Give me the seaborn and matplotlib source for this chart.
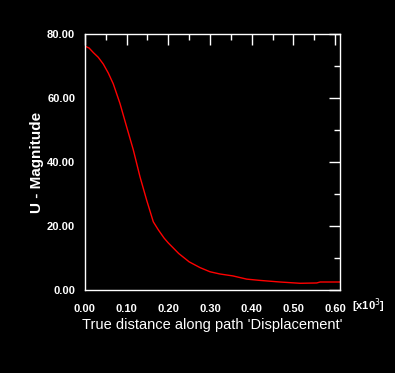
import numpy as np
import pandas as pd
import matplotlib
matplotlib.use("Agg")
import matplotlib.pyplot as plt
import seaborn as sns
from matplotlib.ticker import MultipleLocator, FormatStrFormatter

# path distance (x10^3) and displacement magnitude
distance = [0.000, 0.010, 0.020, 0.032, 0.044, 0.056, 0.068, 0.084, 0.100, 0.116,
            0.132, 0.148, 0.164, 0.176, 0.190, 0.200, 0.225, 0.250, 0.276, 0.300,
            0.324, 0.355, 0.388, 0.420, 0.468, 0.516, 0.556, 0.564, 0.612]
magnitude = [76.2, 75.6, 74.2, 72.7, 70.6, 67.8, 64.4, 58.3, 51.0, 43.8,
             35.4, 28.1, 21.3, 18.8, 16.2, 14.7, 11.4, 8.8, 7.0, 5.7,
             5.0, 4.4, 3.4, 3.0, 2.5, 2.1, 2.2, 2.5, 2.5]

dados = pd.DataFrame({"dist": distance, "mag": magnitude})

sns.set_style("white")
plt.rcParams["font.family"] = ["Liberation Sans", "DejaVu Sans"]

fig = plt.figure(figsize=(3.95, 3.73), dpi=100, facecolor="black")
ax = fig.add_axes([0.215, 0.2225, 0.646, 0.6865], facecolor="black")

sns.lineplot(x="dist", y="mag", data=dados, color="red", linewidth=1.0, ax=ax)

ax.set_xlim(0, 0.612)
ax.set_ylim(0, 80)
ax.xaxis.set_major_locator(MultipleLocator(0.1))
ax.xaxis.set_minor_locator(MultipleLocator(0.05))
ax.yaxis.set_major_locator(MultipleLocator(20))
ax.yaxis.set_minor_locator(MultipleLocator(10))
ax.xaxis.set_major_formatter(FormatStrFormatter("%.2f"))
ax.yaxis.set_major_formatter(FormatStrFormatter("%.2f"))

for s in ax.spines.values():
    s.set_color("white")
    s.set_linewidth(1.0)

ax.tick_params(which="both", direction="in", colors="white", top=True, right=True,
               labelsize=8, width=1.0)
ax.tick_params(which="major", length=8, pad=7)
ax.tick_params(axis="x", which="major", pad=10)
ax.tick_params(which="minor", length=4)
for lab in ax.get_xticklabels() + ax.get_yticklabels():
    lab.set_fontweight("bold")

ax.set_xlabel("True distance along path 'Displacement'", color="white", fontsize=10.5, labelpad=3)
ax.set_ylabel("U - Magnitude", color="white", fontsize=11, fontweight="bold", labelpad=2)
fig.text(0.890, (373 - 306) / 373, r"[x10$^{3}$]", color="white", fontsize=8,
         fontweight="bold", va="center", ha="left")

fig.savefig("out.png", dpi=100, facecolor="black")
